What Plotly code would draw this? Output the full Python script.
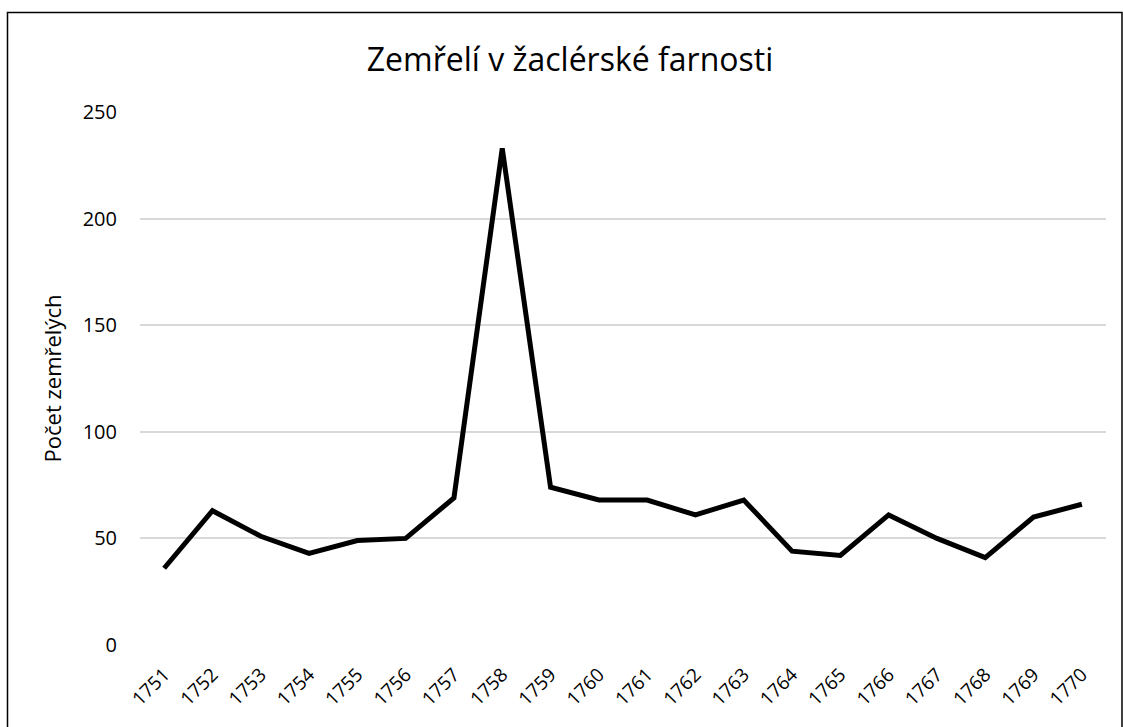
import plotly.graph_objects as go

years = [str(y) for y in range(1751, 1771)]
deaths = [36, 63, 51, 43, 49, 50, 69, 233, 74, 68, 68, 61, 68, 44, 42, 61, 50, 41, 60, 66]
y_ticks = [0, 50, 100, 150, 200, 250]

W, H = 1123, 727
L, R, T, B = 140, 17, 112, 82
pw, ph = W - L - R, H - T - B

def px_x(p):
    return (p - L) / pw

def px_y(p):
    return (H - B - p) / ph

fig = go.Figure()
fig.add_trace(go.Scatter(
    x=years, y=deaths, mode="lines",
    line=dict(color="black", width=5),
    showlegend=False, hoverinfo="skip",
))

font_family = "Open Sans, Noto Sans, sans-serif"

fig.update_layout(
    width=W, height=H,
    margin=dict(l=L, r=R, t=T, b=B),
    paper_bgcolor="white", plot_bgcolor="white",
    font=dict(family=font_family, color="black", size=20),
    title=dict(text="Zemřelí v žaclérské farnosti", x=570 / W, xanchor="center",
               y=1 - 60 / H, yanchor="middle",
               font=dict(size=32, color="black", family=font_family)),
    xaxis=dict(type="category", tickangle=-45, showgrid=False, showline=False,
               ticks="outside", ticklen=10, tickcolor="rgba(0,0,0,0)",
               tickfont=dict(size=19), range=[-0.5, len(years) - 0.5]),
    yaxis=dict(range=[0, 250], tickvals=y_ticks, showgrid=True, gridcolor="#d9d9d9",
               gridwidth=1.5, zeroline=False, showline=False, ticks="",
               tickfont=dict(size=20), ticklabelstandoff=22,
               title=dict(text="Počet zemřelých", font=dict(size=22), standoff=14)),
    shapes=[dict(type="rect", xref="paper", yref="paper",
                 x0=px_x(7.5), x1=px_x(1122), y0=px_y(760), y1=px_y(12.5),
                 line=dict(color="black", width=1.5), fillcolor="rgba(0,0,0,0)",
                 layer="below")],
)

fig.write_html("out.html", config={"displayModeBar": False},
               post_script="document.body.style.margin='0';document.body.style.overflow='hidden';")
